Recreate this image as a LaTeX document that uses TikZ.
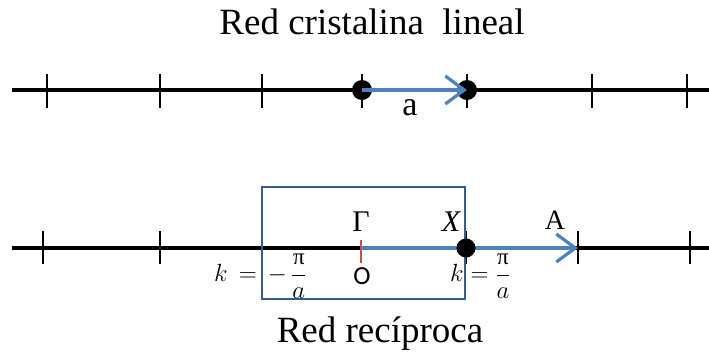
\documentclass[tikz,border=0pt]{standalone}
\usepackage{fontspec}
\setmainfont{Liberation Serif}
\newfontfamily\carl{Carlito}
\usetikzlibrary{arrows.meta}
\definecolor{arrblue}{HTML}{4F81BD}
\definecolor{boxblue}{HTML}{385D8A}
\definecolor{tickred}{HTML}{C0504D}
\begin{document}
\begin{tikzpicture}[x=1pt,y=-1pt,
  axis/.style={line width=3.2pt,black},
  tk/.style={line width=2.8pt,black},
  vec/.style={line width=3.2pt,arrblue,-{Straight Barb[length=19pt,width=28pt,line width=3.2pt]}},
  title/.style={font=\fontsize{37}{42}\selectfont,inner sep=0pt},
  lbl/.style={font=\fontsize{30}{34}\selectfont,inner sep=0pt},
  mlbl/.style={font=\fontsize{23}{26}\selectfont,inner sep=0pt}]
\useasboundingbox (0,0) rectangle (709,354);
% titles
\node[title] (t1) at (372,22) {Red cristalina\ \ lineal};
\node[title] (t2) at (380,334) {Red recíproca};
% top lattice
\coordinate (l1) at (12,90);
\coordinate (r1) at (709,90);
\draw[axis] (l1) -- (r1);
\foreach \x in {47,160,262,362,467,592,687}
  \draw[tk] (\x,74) -- (\x,108);
\coordinate (p0) at (362,90);
\coordinate (p1) at (467,90);
\fill (p0) circle (10);
\fill (p1) circle (10);
\draw[vec] (p0) -- (p1);
\node[font=\fontsize{34}{38}\selectfont,inner sep=0pt] (la) at (410,108) {a};
% bottom lattice
\coordinate (l2) at (12,248);
\coordinate (r2) at (709,248);
\draw[axis] (l2) -- (r2);
\foreach \x in {43,160,262,466,578,690}
  \draw[tk] (\x,231) -- (\x,264);
\draw[line width=2.8pt,boxblue] (262,187) rectangle (465,299);
\draw[line width=2.8pt,tickred] (361,240) -- (361,263);
\coordinate (g) at (361,248);
\coordinate (ae) at (578,248);
\draw[vec] (g) -- (ae);
\fill (466,248) circle (9.5);
\node[lbl] (gam) at (361,222) {Γ};
\node[lbl] (xx) at (451,222) {\itshape X};
\node[font=\fontsize{28}{30}\selectfont,inner sep=0pt] (aa) at (555,220) {A};
\node[font=\carl\fontsize{26}{30}\selectfont,inner sep=0pt] (o) at (362,276) {O};
\node[mlbl,anchor=west] (km) at (214,276) {$\displaystyle k\,=\,-\,\frac{\textrm{π}}{a}$};
\node[mlbl,anchor=west] (kp) at (450,276) {$\displaystyle k=\frac{\textrm{π}}{a}$};
\end{tikzpicture}
\end{document}
